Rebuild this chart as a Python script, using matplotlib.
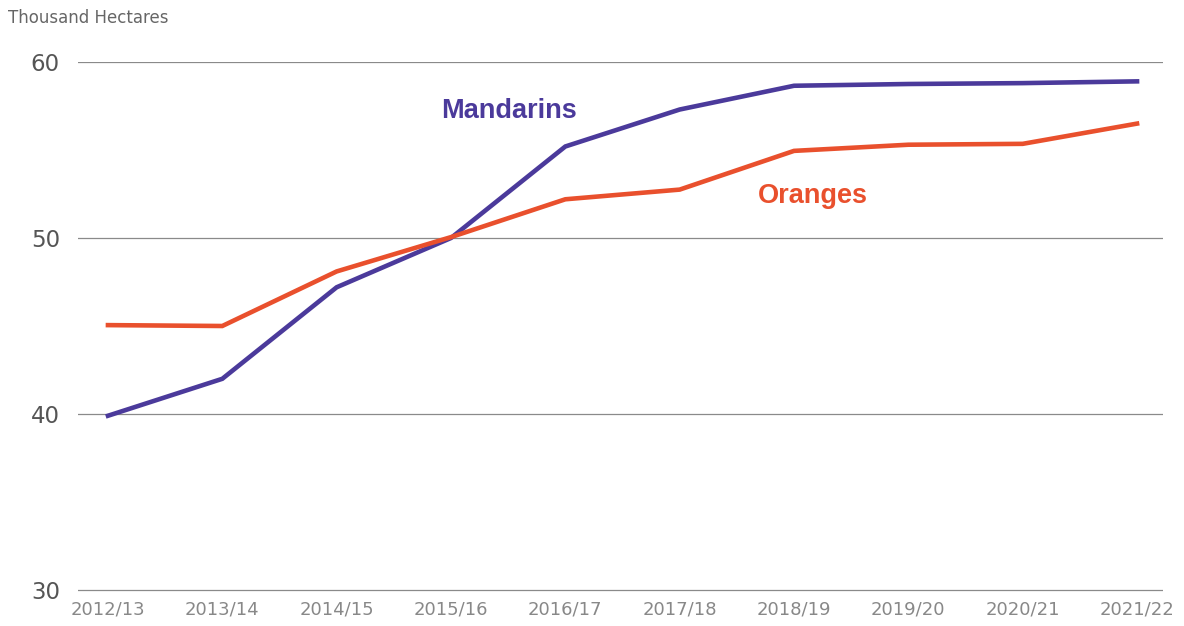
import numpy as np
import matplotlib.pyplot as plt

plt.rcParams['font.family'] = ['DejaVu Sans']

seasons = ["2012/13", "2013/14", "2014/15", "2015/16", "2016/17",
           "2017/18", "2018/19", "2019/20", "2020/21", "2021/22"]
mandarins = [39.9, 42.0, 47.2, 50.0, 55.2, 57.3, 58.65, 58.75, 58.8, 58.9]
oranges = [45.05, 45.0, 48.1, 50.05, 52.2, 52.75, 54.95, 55.3, 55.35, 56.5]

purple = '#4b3a9b'
orange = '#e9502d'

fig = plt.figure(figsize=(11.84, 6.26), dpi=100)
# axes spans a hair below 30 so the bottom gridline isn't clipped
ax = fig.add_axes([78 / 1184, 1 - 592 / 626, (1163 - 78) / 1184, (592 - 62) / 626])

x = np.arange(len(seasons))
ax.plot(x, mandarins, color=purple, lw=3.3, solid_joinstyle='miter', clip_on=False, zorder=3)
ax.plot(x, oranges, color=orange, lw=3.3, solid_joinstyle='miter', clip_on=False, zorder=3)

ax.set_xlim(-0.262, 9.227)
ax.set_ylim(30 - 2 / 17.6, 60)
ax.set_yticks([30, 40, 50, 60])
ax.set_xticks(x)
ax.set_xticklabels(seasons)
ax.grid(axis='y', color='#8a8a8a', lw=0.9)
ax.set_axisbelow(True)
for s in ax.spines.values():
    s.set_visible(False)
ax.tick_params(length=0)
ax.tick_params(axis='y', labelsize=16.5, labelcolor='#555555', pad=13)
ax.tick_params(axis='x', labelsize=13, labelcolor='#888888', pad=6)

ax.text(2.91, 57.2, "Mandarins", color=purple, fontsize=19.5, fontweight='bold',
        family='Liberation Sans', va='center', ha='left')
ax.text(5.68, 52.4, "Oranges", color=orange, fontsize=19.5, fontweight='bold',
        family='Liberation Sans', va='center', ha='left')

fig.text(8 / 1184, 1 - 18 / 626, "Thousand Hectares", fontsize=12, color='#666666', va='center', ha='left')

fig.savefig('out.png', dpi=100)
